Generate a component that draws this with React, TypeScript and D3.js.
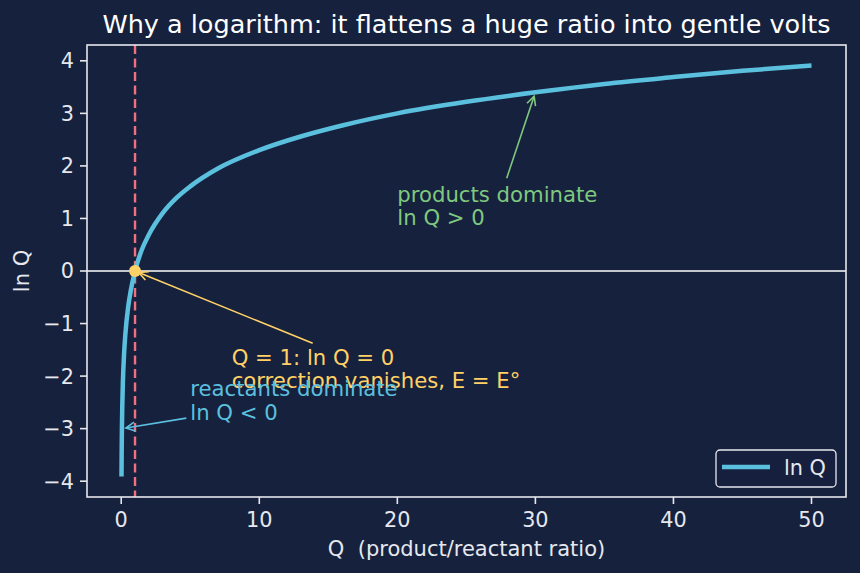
import * as d3 from 'd3';
import React, {useEffect, useRef} from 'react';

// ---- data ----
const qValues = [0.02, 0.03, 0.05, 0.08, 0.12, 0.2, 0.3, 0.5, 0.7, 1, 1.5, 2, 3, 4, 5, 7, 10, 13, 16, 20, 25, 30, 35, 40, 45, 50];
const lnQValues = [-3.91, -3.51, -3.0, -2.53, -2.12, -1.61, -1.2, -0.69, -0.36, 0, 0.41, 0.69, 1.1, 1.39, 1.61, 1.95, 2.3, 2.56, 2.77, 3.0, 3.22, 3.4, 3.56, 3.69, 3.81, 3.91];
const xTicks = [0, 10, 20, 30, 40, 50];
const yTicks = [-4, -3, -2, -1, 0, 1, 2, 3, 4];

// annotations: [text lines], text anchor (Q, lnQ), arrow target (Q, lnQ), colour
const noteLines = [
    ["products dominate", "ln Q > 0"],
    ["Q = 1: ln Q = 0", "correction vanishes, E = E°"],
    ["reactants dominate", "ln Q < 0"],
];
const noteText = [[20, 1.2], [8, -1.9], [5, -2.5]];
const noteTarget = [[30, 3.4], [1, 0], [0.05, -3.0]];
const noteColor = ["#7fc97f", "#ffd166", "#5bc0de"];

const BG = "#16213e";
const FG = "#e6e8ee";
const CURVE = "#5bc0de";
const FONT = "DejaVu Sans, sans-serif";

export default function App() {
    const ref = useRef(null);

    useEffect(() => {
        const svg = d3.select(ref.current);
        svg.selectAll("*").remove();
        const W = 860, H = 573;
        const m = {l: 87, r: 14, t: 45, b: 76};
        const cw = W - m.l - m.r, ch = H - m.t - m.b;

        svg.append("rect").attr("width", W).attr("height", H).attr("fill", BG);

        // matplotlib-ish 5% margins
        const xr = [0.02, 50], yr = [-3.91, 3.91];
        const xp = (xr[1] - xr[0]) * 0.05, yp = (yr[1] - yr[0]) * 0.05;
        const x = d3.scaleLinear().domain([xr[0] - xp, xr[1] + xp]).range([m.l, m.l + cw]);
        const y = d3.scaleLinear().domain([yr[0] - yp, yr[1] + yp]).range([m.t + ch, m.t]);

        const data = qValues.map((q, i) => ({q, v: lnQValues[i]}));

        // zero line
        svg.append("line")
            .attr("x1", m.l).attr("x2", m.l + cw)
            .attr("y1", y(0)).attr("y2", y(0))
            .attr("stroke", "#ffffff").attr("stroke-width", 1.7);

        // Q = 1 dashed line
        svg.append("line")
            .attr("x1", x(1)).attr("x2", x(1))
            .attr("y1", m.t).attr("y2", m.t + ch)
            .attr("stroke", "#f07080").attr("stroke-width", 2.4)
            .attr("stroke-dasharray", "9,4.5");

        const line = d3.line().x(d => x(d.q)).y(d => y(d.v)).curve(d3.curveMonotoneX);
        svg.append("path").datum(data)
            .attr("d", line)
            .attr("fill", "none")
            .attr("stroke", CURVE)
            .attr("stroke-width", 4.5)
            .attr("stroke-linecap", "butt");

        svg.append("circle")
            .attr("cx", x(1)).attr("cy", y(0)).attr("r", 6)
            .attr("fill", "#ffd166");

        // spines
        svg.append("rect")
            .attr("x", m.l).attr("y", m.t).attr("width", cw).attr("height", ch)
            .attr("fill", "none").attr("stroke", FG).attr("stroke-width", 1.6);

        // x axis ticks
        const xt = svg.append("g");
        xTicks.forEach(t => {
            xt.append("line").attr("x1", x(t)).attr("x2", x(t))
                .attr("y1", m.t + ch).attr("y2", m.t + ch + 7)
                .attr("stroke", FG).attr("stroke-width", 1.6);
            xt.append("text").attr("x", x(t)).attr("y", m.t + ch + 30)
                .attr("text-anchor", "middle").attr("fill", FG)
                .style("font-family", FONT).style("font-size", "20.8px")
                .text(t);
        });
        const yt = svg.append("g");
        yTicks.forEach(t => {
            yt.append("line").attr("x1", m.l - 7).attr("x2", m.l)
                .attr("y1", y(t)).attr("y2", y(t))
                .attr("stroke", FG).attr("stroke-width", 1.6);
            yt.append("text").attr("x", m.l - 13).attr("y", y(t))
                .attr("dy", "0.36em")
                .attr("text-anchor", "end").attr("fill", FG)
                .style("font-family", FONT).style("font-size", "20.8px")
                .text(t < 0 ? "\u2212" + Math.abs(t) : t);
        });

        // axis labels + title
        svg.append("text")
            .attr("x", m.l + cw / 2).attr("y", 556)
            .attr("text-anchor", "middle").attr("fill", FG)
            .style("font-family", FONT).style("font-size", "21px")
            .style("white-space", "pre")
            .text("Q  (product/reactant ratio)");
        svg.append("text")
            .attr("transform", `translate(29, ${m.t + ch / 2}) rotate(-90)`)
            .attr("text-anchor", "middle").attr("fill", FG)
            .style("font-family", FONT).style("font-size", "21px")
            .text("ln Q");
        svg.append("text")
            .attr("x", m.l + cw / 2).attr("y", 33)
            .attr("text-anchor", "middle").attr("fill", "#ffffff")
            .style("font-family", FONT).style("font-size", "25.5px")
            .text("Why a logarithm: it flattens a huge ratio into gentle volts");

        // annotations with arrows
        const notes = svg.append("g");
        noteLines.forEach((lines, i) => {
            const tx = x(noteText[i][0]), cy = y(noteText[i][1]);
            const g = notes.append("g");
            const txt = g.append("text").attr("fill", noteColor[i])
                .style("font-family", FONT).style("font-size", "21.2px");
            lines.forEach((s, j) => {
                txt.append("tspan").attr("x", tx).attr("y", cy - 6 + j * 23.5).text(s);
            });
            const bb = txt.node().getBBox();
            const cx0 = bb.x + bb.width / 2, cy0 = bb.y + bb.height / 2;
            const px = x(noteTarget[i][0]), py = y(noteTarget[i][1]);
            const dx = px - cx0, dy = py - cy0;
            // where the centre->target ray leaves the text box
            const tX = dx !== 0 ? (bb.width / 2) / Math.abs(dx) : Infinity;
            const tY = dy !== 0 ? (bb.height / 2) / Math.abs(dy) : Infinity;
            const tt = Math.min(tX, tY);
            const len = Math.hypot(dx, dy);
            const ux = dx / len, uy = dy / len;
            const sx = cx0 + dx * tt + ux * 4, sy = cy0 + dy * tt + uy * 4;
            const ex = px - ux * 4, ey = py - uy * 4;
            g.append("line").attr("x1", sx).attr("y1", sy).attr("x2", ex).attr("y2", ey)
                .attr("stroke", noteColor[i]).attr("stroke-width", 1.6);
            // open arrow head
            const ah = 9, aw = 4.5;
            const bx = ex - ux * ah, by = ey - uy * ah;
            g.append("path")
                .attr("d", `M${bx - uy * aw},${by + ux * aw}L${ex},${ey}L${bx + uy * aw},${by - ux * aw}`)
                .attr("fill", "none").attr("stroke", noteColor[i]).attr("stroke-width", 1.6);
        });

        // legend
        const lg = svg.append("g");
        lg.append("rect")
            .attr("x", 716).attr("y", 450).attr("width", 120).attr("height", 37)
            .attr("rx", 4).attr("fill", BG).attr("fill-opacity", 0.8)
            .attr("stroke", FG).attr("stroke-width", 1.3);
        lg.append("line").attr("x1", 722).attr("x2", 770).attr("y1", 467).attr("y2", 467)
            .attr("stroke", CURVE).attr("stroke-width", 4.5);
        lg.append("text").attr("x", 784).attr("y", 475)
            .attr("fill", FG).style("font-family", FONT).style("font-size", "20.8px")
            .text("ln Q");
    }, []);

    return (
        <svg ref={ref} width={860} height={573}
             style={{position: "absolute", left: 0, top: 0, display: "block"}} />
    );
}
